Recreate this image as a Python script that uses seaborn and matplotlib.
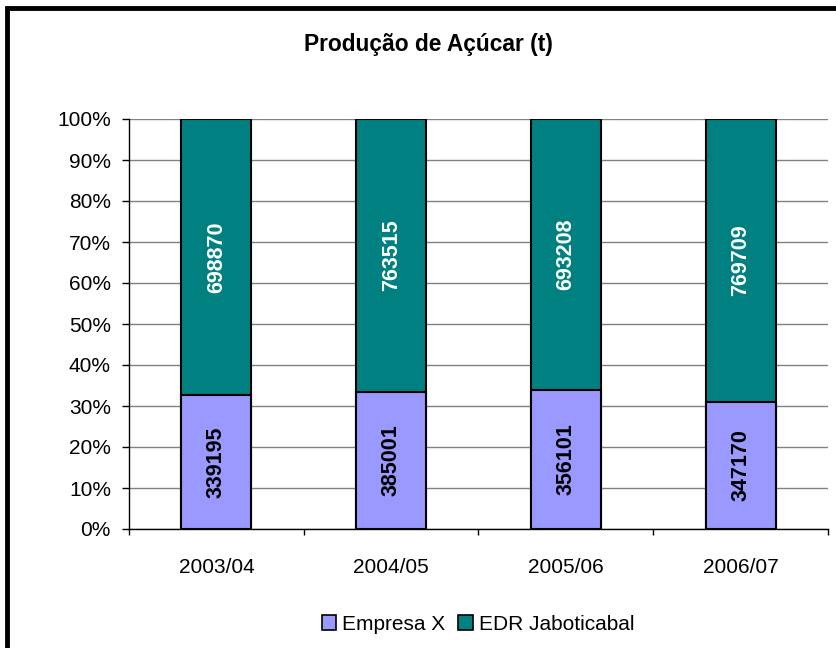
import matplotlib
matplotlib.use("Agg")
import matplotlib.pyplot as plt
from matplotlib.patches import Rectangle, Patch
import seaborn as sns
import pandas as pd
import numpy as np

periods = ["2003/04", "2004/05", "2005/06", "2006/07"]
empresa_x = [339195, 385001, 356101, 347170]
edr_jaboticabal = [698870, 763515, 693208, 769709]
series_names = ["Empresa X", "EDR Jaboticabal"]
ytick_values = list(range(0, 101, 10))

c_purple = "#9999FF"
c_teal = "#008080"

sns.set_theme(style="white")
plt.rcParams["font.family"] = ["Liberation Sans", "DejaVu Sans"]
plt.rcParams["text.color"] = "black"
plt.rcParams["xtick.color"] = "black"
plt.rcParams["ytick.color"] = "black"
plt.rcParams["axes.labelcolor"] = "black"

df = pd.DataFrame({"periodo": periods, "empresa": empresa_x, "edr": edr_jaboticabal})
df["total"] = df["empresa"] + df["edr"]
df["empresa_pct"] = df["empresa"] / df["total"] * 100
df["total_pct"] = df["total"] / df["total"] * 100

fig = plt.figure(figsize=(8.37, 6.48), dpi=100)
ax = fig.add_axes([129 / 837, 1 - 529 / 648, (828 - 129) / 837, (529 - 119) / 648])

sns.barplot(data=df, x="periodo", y="total_pct", color=c_teal, saturation=1,
            width=0.4, edgecolor="black", linewidth=1.5, ax=ax, zorder=3)
sns.barplot(data=df, x="periodo", y="empresa_pct", color=c_purple, saturation=1,
            width=0.4, edgecolor="black", linewidth=1.5, ax=ax, zorder=3)

fs = 15
lfs = 15.5
for i, row in df.iterrows():
    ax.text(i, row["empresa_pct"] / 2, f"{row['empresa']}", rotation=90,
            ha="center", va="center", fontsize=lfs, fontweight="bold", color="black", zorder=5)
    ax.text(i, row["empresa_pct"] + (100 - row["empresa_pct"]) / 2, f"{row['edr']}",
            rotation=90, ha="center", va="center", fontsize=lfs, fontweight="bold",
            color="white", zorder=5)

ax.set_xlim(-0.5, len(periods) - 0.5)
ax.set_ylim(0, 100)
ax.set_yticks(ytick_values)
ax.set_yticklabels([f"{v}%" for v in ytick_values], fontsize=fs)
ax.yaxis.grid(True, color="#808080", linewidth=1)
ax.set_axisbelow(True)

ax.set_xticks(np.arange(-0.5, len(periods), 1.0))
ax.set_xticklabels([""] * (len(periods) + 1))
ax.set_xticks(np.arange(len(periods)), minor=True)
ax.set_xticklabels(periods, minor=True, fontsize=fs)
ax.tick_params(axis="x", which="major", direction="out", length=4, width=1, color="black", bottom=True)
ax.tick_params(axis="x", which="minor", length=0, pad=21)
ax.tick_params(axis="y", direction="out", length=5, width=1, color="black", left=True, pad=8)
ax.set_xlabel("")
ax.set_ylabel("")
for s in ["top", "right"]:
    ax.spines[s].set_visible(False)
for s in ["left", "bottom"]:
    ax.spines[s].set_color("black")
    ax.spines[s].set_linewidth(1)

fig.text(428 / 837, 1 - 44 / 648, "Produção de Açúcar (t)", ha="center", va="center",
         fontsize=16.4, fontweight="bold")

handles = [Patch(facecolor=c_purple, edgecolor="black", linewidth=1.2),
           Patch(facecolor=c_teal, edgecolor="black", linewidth=1.2)]
fig.legend(handles, series_names, loc="center", bbox_to_anchor=(478 / 837, 1 - 624 / 648),
           ncol=2, frameon=False, fontsize=fs, handlelength=0.7, handleheight=0.7,
           handletextpad=0.3, columnspacing=0.6)

fig.patches.append(Rectangle((7 / 837, -0.1), 1.2, (1 - 8 / 648) + 0.1, fill=False,
                             edgecolor="black", linewidth=3.5, transform=fig.transFigure))

fig.savefig("out.png", dpi=100)
